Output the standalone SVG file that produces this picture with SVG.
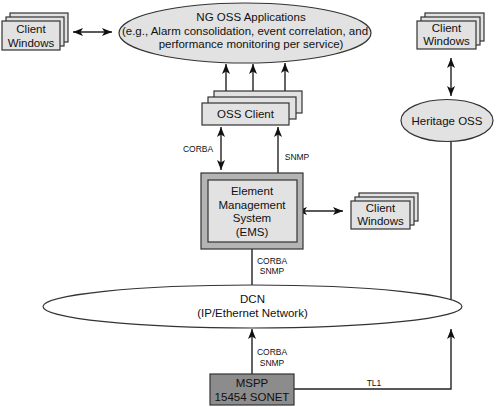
<svg xmlns="http://www.w3.org/2000/svg" width="500" height="407" viewBox="0 0 500 407">
<defs>
<marker id="ah" viewBox="0 0 10 8" refX="10" refY="4" markerWidth="10" markerHeight="8" markerUnits="userSpaceOnUse" orient="auto-start-reverse">
<path d="M0,0 L10,4 L0,8 L2.5,4 z" fill="#111"/>
</marker>
<style>
text{font-family:"Liberation Sans",Arial,sans-serif;font-size:11.5px;fill:#111;text-anchor:middle}
.sm{font-size:8.5px}
.box{fill:#e2e2e2;stroke:#333;stroke-width:1.2}
.ell{fill:#e2e2e2;stroke:#333;stroke-width:1.2}
.ln{fill:none;stroke:#222;stroke-width:1.4}
.arr{marker-end:url(#ah)}
.bi{marker-start:url(#ah);marker-end:url(#ah)}
</style>
</defs>
<rect width="500" height="407" fill="#fff"/>

<g id="connectors">
<line class="ln bi" x1="73" y1="32" x2="112" y2="32"/>
<line class="ln bi" x1="451" y1="58" x2="451" y2="96"/>
<line class="ln arr" x1="226" y1="103" x2="226" y2="64"/>
<line class="ln arr" x1="253" y1="97" x2="253" y2="64"/>
<line class="ln arr" x1="285" y1="91" x2="285" y2="63"/>
<line class="ln bi" x1="221" y1="127" x2="221" y2="170"/>
<line class="ln arr" x1="278" y1="173" x2="278" y2="127"/>
<line class="ln bi" x1="297" y1="211" x2="343" y2="211"/>
<line class="ln" x1="252" y1="249" x2="252" y2="285"/>
<line class="ln arr" x1="252" y1="374" x2="252" y2="329"/>
<path class="ln arr" d="M294,389 H451 V329"/>
<line class="ln" x1="451" y1="141" x2="451" y2="300"/>
<text class="sm" x="198" y="152">CORBA</text>
<text class="sm" x="297" y="160">SNMP</text>
<text class="sm" x="272" y="264">CORBA</text>
<text class="sm" x="272" y="274">SNMP</text>
<text class="sm" x="272" y="355">CORBA</text>
<text class="sm" x="272" y="366">SNMP</text>
<text class="sm" x="374" y="386">TL1</text>
</g>

<g id="client-windows-left">
<rect class="box" x="10" y="13" width="58" height="29"/>
<rect class="box" x="6" y="17" width="58" height="29"/>
<rect class="box" x="2" y="21" width="58" height="29"/>
<text x="31" y="33">Client</text>
<text x="31" y="46.5">Windows</text>
</g>

<g id="ng-oss">
<ellipse class="ell" cx="245" cy="33" rx="126" ry="30"/>
<text x="251" y="21">NG OSS Applications</text>
<text x="245" y="34.5">(e.g., Alarm consolidation, event correlation, and</text>
<text x="251" y="48">performance monitoring per service)</text>
</g>

<g id="client-windows-right">
<rect class="box" x="425" y="13" width="59" height="28"/>
<rect class="box" x="421" y="17" width="59" height="28"/>
<rect class="box" x="417" y="21" width="59" height="28"/>
<text x="446.5" y="32">Client</text>
<text x="446.5" y="45">Windows</text>
</g>

<g id="heritage-oss">
<ellipse class="ell" cx="447" cy="120.5" rx="46" ry="21"/>
<text x="447" y="125">Heritage OSS</text>
</g>

<g id="oss-client">
<rect class="box" x="214" y="91" width="88" height="22"/>
<rect class="box" x="208" y="97" width="88" height="22"/>
<rect class="box" x="202" y="103" width="87" height="22"/>
<text x="245.5" y="118">OSS Client</text>
</g>

<g id="ems">
<rect x="201" y="173" width="102" height="76" fill="#b4b4b4" stroke="#333" stroke-width="1.2"/>
<rect x="208" y="180" width="89" height="62" fill="#e2e2e2" stroke="#333" stroke-width="1.2"/>
<text x="252" y="195">Element</text>
<text x="252" y="208.5">Management</text>
<text x="252" y="222">System</text>
<text x="252" y="235.5">(EMS)</text>
</g>

<g id="client-windows-mid">
<rect class="box" x="359" y="193" width="59" height="28"/>
<rect class="box" x="355" y="197" width="59" height="28"/>
<rect class="box" x="351" y="201" width="59" height="28"/>
<text x="380.5" y="212">Client</text>
<text x="380.5" y="225">Windows</text>
</g>

<g id="dcn">
<ellipse cx="252.5" cy="306.5" rx="209.5" ry="21.5" fill="#fff" stroke="#333" stroke-width="1.2"/>
<text x="252.5" y="303">DCN</text>
<text x="252.5" y="317">(IP/Ethernet Network)</text>
</g>

<g id="mspp">
<rect x="210" y="374" width="84" height="31" fill="#8c8c8c" stroke="#333" stroke-width="1.2"/>
<text x="252" y="387">MSPP</text>
<text x="252" y="401">15454 SONET</text>
</g>
</svg>
